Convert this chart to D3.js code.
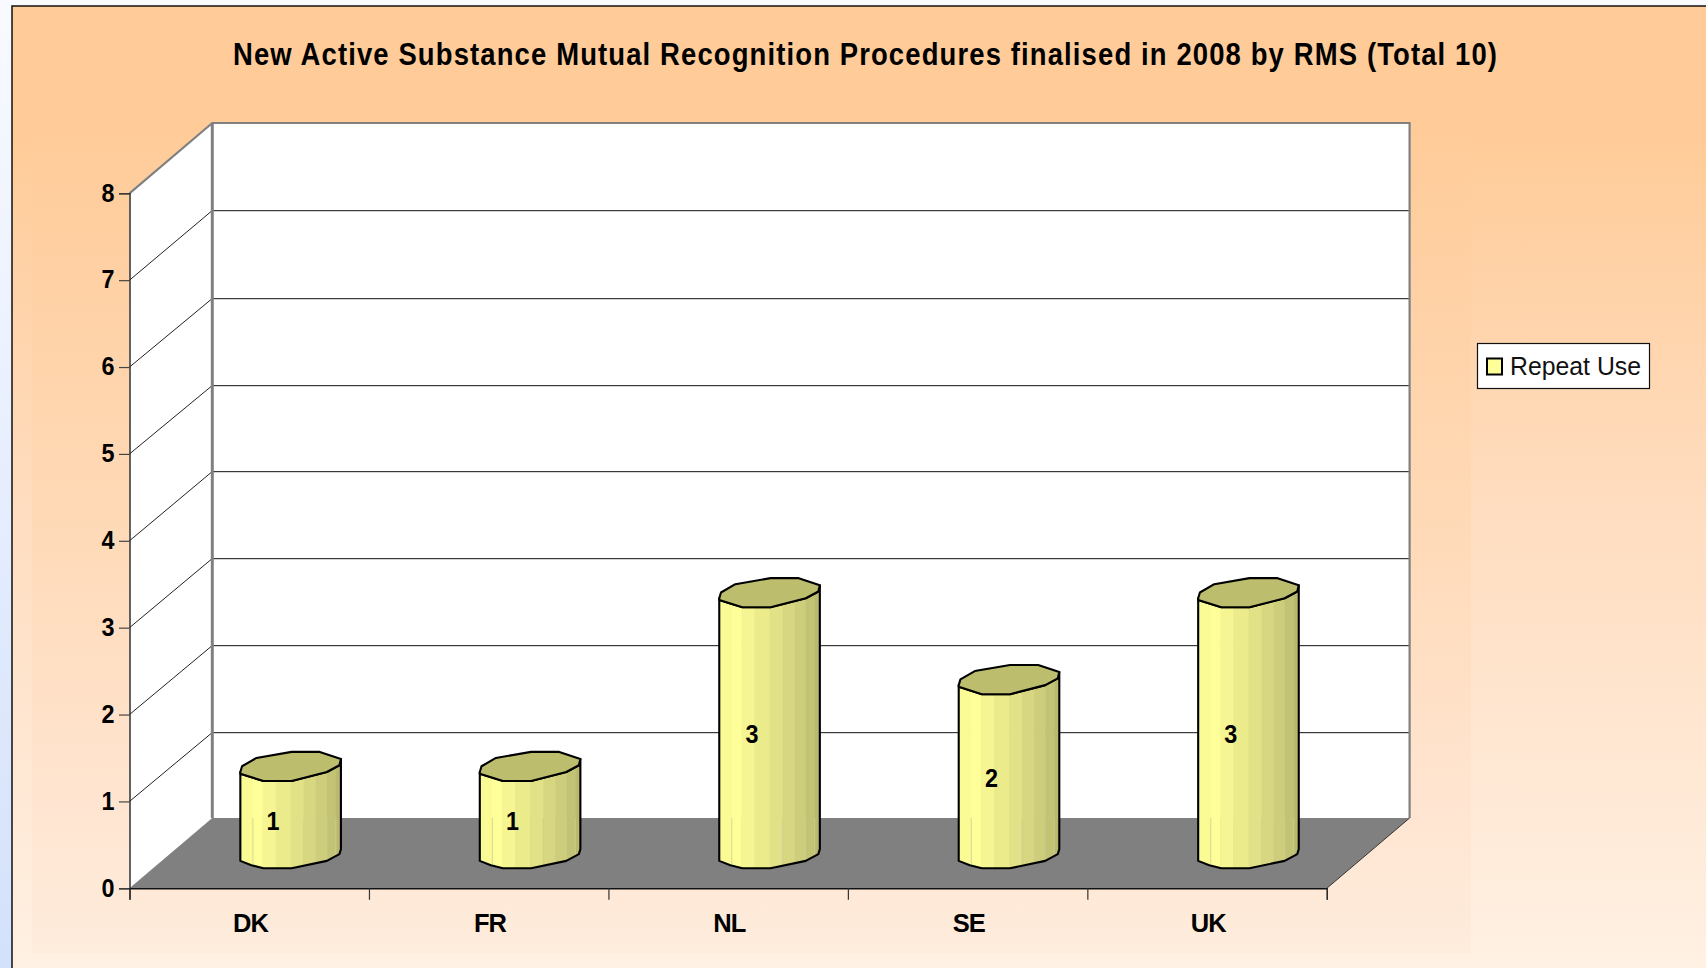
<!DOCTYPE html>
<html><head><meta charset="utf-8">
<style>html,body{margin:0;padding:0;background:#fff;overflow:hidden}svg{display:block}text{font-family:"Liberation Sans",Arial,sans-serif}</style>
<script src="https://cdn.jsdelivr.net/npm/d3@7/dist/d3.min.js"></script>
</head><body><svg id="c" width="1706" height="968"></svg>
<script>
const categories = ["DK","FR","NL","SE","UK"];
const repeatUse = [1,1,3,2,3];
const yTicks = [0,1,2,3,4,5,6,7,8];
const titleText = "New Active Substance Mutual Recognition Procedures finalised in 2008 by RMS (Total 10)";
const seriesName = "Repeat Use";

const svg = d3.select("#c");
const defs = svg.append("defs");
function grad(id, stops, x2=0, y2=1){
  const g = defs.append("linearGradient").attr("id",id).attr("x1",0).attr("y1",0).attr("x2",x2).attr("y2",y2);
  stops.forEach(([o,c])=>g.append("stop").attr("offset",o).attr("stop-color",c));
}
grad("page",[[0,"#f8faff"],[0.45,"#e8effe"],[1,"#d3e1fb"]]);
grad("outer",[[0,"#ffcc99"],[0.14,"#ffcc99"],[0.5,"#ffdcbe"],[1,"#fff1e4"]]);
grad("inner",[[0,"#ffcb98"],[0.5,"#ffdab8"],[0.85,"#ffe6d3"],[1,"#feecdc"]]);

svg.append("rect").attr("width",1706).attr("height",968).attr("fill","url(#page)");
svg.append("rect").attr("x",12).attr("y",6).attr("width",1700).attr("height",970).attr("fill","url(#outer)").attr("stroke","#111").attr("stroke-width",1.5);
svg.append("rect").attr("x",32).attr("y",120).attr("width",1439).attr("height",833).attr("fill","url(#inner)");

// title
svg.append("text").attr("id","title").attr("transform","translate(865,64.5) scale(0.9,1)").attr("text-anchor","middle")
  .attr("font-size",30.5).attr("font-weight","bold").attr("fill","#000")
  .attr("textLength",1264/0.9).attr("lengthAdjust","spacing").text(titleText);

// scales
const front = {x0:129.5,x1:1326.8,y0:888.3,y1:193.3};
const depth = {dx:82.8,dy:-70.3};
const x = d3.scaleBand().domain(categories).range([front.x0,front.x1]);
const xEdges = d3.scaleLinear().domain([0,categories.length]).range([front.x0,front.x1]);
const y = d3.scaleLinear().domain([0,8]).range([front.y0,front.y1]);
const P = (a,b)=>a+","+b;

// walls
svg.append("polygon").attr("fill","#fff").attr("points",[
  P(front.x0,y(0)),P(front.x0+depth.dx,y(0)+depth.dy),P(front.x0+depth.dx,y(8)+depth.dy),P(front.x0,y(8))].join(" "));
svg.append("rect").attr("x",front.x0+depth.dx).attr("y",y(8)+depth.dy).attr("width",front.x1-front.x0).attr("height",y(0)-y(8)).attr("fill","#fff");
// floor
svg.append("polygon").attr("fill","#808080").attr("points",[
  P(front.x0,y(0)),P(front.x1,y(0)),P(front.x1+depth.dx,y(0)+depth.dy),P(front.x0+depth.dx,y(0)+depth.dy)].join(" "));
// gridlines
const grid = svg.append("g");
yTicks.filter(v=>v>0&&v<8).forEach(v=>{
  const yb=Math.round(y(v)+depth.dy+(v<7?1:0))+0.5;
  grid.append("line").attr("x1",front.x0+depth.dx).attr("x2",front.x1+depth.dx).attr("y1",yb+1).attr("y2",yb+1).attr("stroke","#d4d4d4").attr("stroke-width",1);
  grid.append("line").attr("x1",front.x0+depth.dx).attr("x2",front.x1+depth.dx).attr("y1",yb).attr("y2",yb).attr("stroke","#3a3a3a").attr("stroke-width",1);
  grid.append("line").attr("x1",front.x0).attr("x2",front.x0+depth.dx).attr("y1",y(v)).attr("y2",yb).attr("stroke","#222").attr("stroke-width",1);
});
// wall outlines
const wallLine = "#808080";
svg.append("polyline").attr("fill","none").attr("stroke",wallLine).attr("stroke-width",2.2).attr("points",[
  P(front.x0,y(8)),P(front.x0+depth.dx,y(8)+depth.dy),P(front.x1+depth.dx,y(8)+depth.dy),P(front.x1+depth.dx,y(0)+depth.dy)].join(" "));
svg.append("line").attr("x1",front.x0+depth.dx).attr("x2",front.x0+depth.dx).attr("y1",y(8)+depth.dy).attr("y2",y(0)+depth.dy).attr("stroke",wallLine).attr("stroke-width",3);
svg.append("line").attr("x1",front.x1).attr("y1",y(0)).attr("x2",front.x1+depth.dx).attr("y2",y(0)+depth.dy).attr("stroke","#333").attr("stroke-width",1);

// axes
const yAxis = svg.append("g").attr("transform",`translate(${front.x0},0)`)
  .call(d3.axisLeft(y).tickValues(yTicks).tickSize(10.5).tickPadding(4.5).tickFormat(d3.format("d")));
yAxis.select(".domain").attr("stroke","#222").attr("stroke-width",1.4);
yAxis.selectAll(".tick line").attr("stroke","#444").attr("stroke-width",1.2);
yAxis.selectAll("text").attr("font-size",26).attr("font-weight","bold").attr("fill","#000").attr("font-family","Liberation Sans")
  .attr("dy","0.3em").attr("textLength",13).attr("lengthAdjust","spacingAndGlyphs");

const xTicksAxis = svg.append("g").attr("transform",`translate(0,${front.y0})`)
  .call(d3.axisBottom(xEdges).ticks(categories.length).tickSize(11.5).tickFormat(""));
xTicksAxis.select(".domain").attr("stroke","#111").attr("stroke-width",1.4);
xTicksAxis.selectAll(".tick line").attr("stroke","#333").attr("stroke-width",1.2);
const xAxis = svg.append("g").attr("transform",`translate(1.2,${front.y0})`)
  .call(d3.axisBottom(x).tickSize(0).tickPadding(0));
xAxis.select(".domain").remove();
xAxis.selectAll("text").attr("font-size",25.5).attr("font-weight","bold").attr("fill","#000").attr("font-family","Liberation Sans")
  .attr("y",43.5).attr("dy",0).attr("letter-spacing",-1);

// bars: faceted cylinder, expressed in fractions of the bar width
const barWidth = x.bandwidth()*0.42;
const depthShift = {x:depth.dx/2, y:depth.dy*0.39};
const topFacets = [[0,0],[.017,-.057],[.16,-.14],[.51,-.20],[.79,-.20],[1,-.13],[.985,-.067],[.86,0],[.51,.09],[.23,.09],[0,.017]];
const baseFacets = [[0,0],[.11,.043],[.23,.073],[.51,.073],[.86,0],[.985,-.067],[1,-.117]];
const stripEdges = [0,.125,.22,.35,.5,.63,.75,.86,.95,1];
const stripColors = ["#fbfb96","#ffff99","#f5f593","#ebeb8c","#e1e187","#d7d781","#cdcd7b","#c3c375","#b9b96f"];
const barG = svg.append("g");
categories.forEach((c,i)=>{
  const v = repeatUse[i];
  const left = x(c)+x.bandwidth()/2+depthShift.x-barWidth/2;
  const base = y(0)+depthShift.y;
  const top = y(v)+depthShift.y-2;
  const line = d3.line();
  const topPts = topFacets.map(([u,w])=>[left+u*barWidth,top+w*barWidth]);
  const basePts = baseFacets.map(([u,w])=>[left+u*barWidth,base+w*barWidth]);
  const body = [[left,top],...basePts,topPts[5],...topPts.slice(6)];
  const id = "clip"+i;
  defs.append("clipPath").attr("id",id).append("path").attr("d",line(body)+"Z");
  const g = barG.append("g");
  const strips = g.append("g").attr("clip-path",`url(#${id})`);
  stripColors.forEach((col,k)=>{
    strips.append("rect").attr("x",left+stripEdges[k]*barWidth).attr("y",top-barWidth*.3)
      .attr("width",(stripEdges[k+1]-stripEdges[k])*barWidth+.5).attr("height",base-top+barWidth*.5).attr("fill",col);
  });
  // faint facet seams where the strips cross the floor
  stripEdges.slice(1,-1).forEach((e,k)=>{
    if(k!==1&&k!==2&&k!==3) strips.append("line").attr("x1",left+e*barWidth).attr("x2",left+e*barWidth)
      .attr("y1",y(0)+depth.dy).attr("y2",base+barWidth*.1).attr("stroke","#cfcf92").attr("stroke-width",.8);
  });
  g.append("path").attr("d",line(body)+"Z").attr("fill","none").attr("stroke","#000").attr("stroke-width",2.1).attr("stroke-linejoin","round");
  g.append("path").attr("d",line(topPts)+"Z").attr("fill","#bdbd6e").attr("stroke","#000").attr("stroke-width",2.1).attr("stroke-linejoin","round");
  g.append("text").attr("x",left+barWidth*.325).attr("y",(top+base)/2+13.5).attr("text-anchor","middle")
    .attr("font-size",26).attr("font-weight","bold").attr("fill","#000").attr("textLength",13).attr("lengthAdjust","spacingAndGlyphs").text(v);
});

// legend
const lg = svg.append("g");
lg.append("rect").attr("x",1477.5).attr("y",343.5).attr("width",172).attr("height",45).attr("fill","#fff").attr("stroke","#111").attr("stroke-width",1.2);
lg.append("rect").attr("x",1487).attr("y",358.5).attr("width",15).attr("height",16).attr("fill","#ffff99").attr("stroke","#000").attr("stroke-width",2);
lg.append("text").attr("x",1510).attr("y",375).attr("font-size",25.5).attr("fill","#111").attr("textLength",131).attr("lengthAdjust","spacingAndGlyphs").text(seriesName);
</script></body></html>
